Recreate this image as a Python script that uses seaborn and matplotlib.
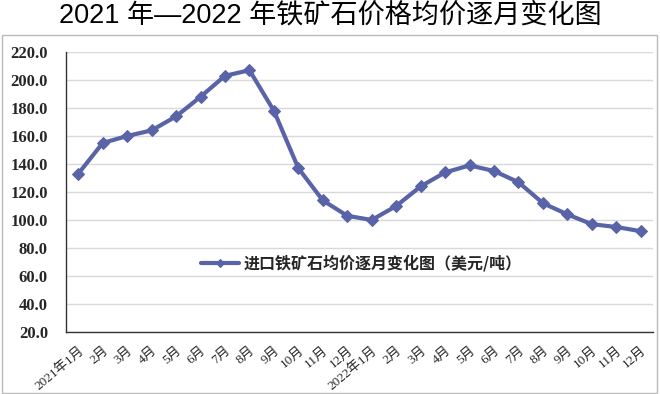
import numpy as np
import pandas as pd
import matplotlib
matplotlib.use("Agg")
import matplotlib.pyplot as plt
import seaborn as sns
from matplotlib import font_manager
from matplotlib.patches import Rectangle

months = ["2021年1月", "2月", "3月", "4月", "5月", "6月", "7月", "8月", "9月", "10月", "11月", "12月",
          "2022年1月", "2月", "3月", "4月", "5月", "6月", "7月", "8月", "9月", "10月", "11月", "12月"]
prices = [133, 155, 160, 164, 174, 188, 203, 207, 178, 137, 114, 103,
          100, 110, 124, 134, 139, 135, 127, 112, 104, 97, 95, 92]
series_name = "进口铁矿石均价逐月变化图（美元/吨）"
yticks = [20, 40, 60, 80, 100, 120, 140, 160, 180, 200, 220]

sns.set_style("white")

try:
    font_manager.findfont("Liberation Serif", fallback_to_default=False)
    serif = "Liberation Serif"
except Exception:
    serif = "DejaVu Serif"
tick_fonts = [serif, "Noto Sans CJK SC"]
plt.rcParams['font.family'] = tick_fonts

df = pd.DataFrame({"pos": np.arange(len(prices)), "price": prices})

fig = plt.figure(figsize=(6.6, 3.94), dpi=100)
ax = fig.add_axes([66 / 660, 1 - 332 / 394, 587 / 660, 280 / 394])

ax.set_axisbelow(True)
ax.grid(axis="y", color="#d9d9d9", linewidth=1)

color = "#5863a8"
sns.lineplot(data=df, x="pos", y="price", ax=ax, color=color, linewidth=3,
             marker="D", markersize=6.5, markeredgecolor=color, label=series_name)

ax.set_xlim(-0.5, len(prices) - 0.5)
ax.set_ylim(20, 220)
ax.set_yticks(yticks)
ax.set_yticklabels([f"{v:.1f}" for v in yticks], fontsize=12, fontweight="bold", family=tick_fonts)
ax.set_xticks(np.arange(len(months)))
ax.set_xticklabels(months, rotation=40, ha="right", rotation_mode="anchor", fontsize=9.5, family=tick_fonts)
ax.set_xticks(np.arange(len(months)) + 0.5, minor=True)
ax.tick_params(axis="x", which="major", length=0, pad=9)
ax.tick_params(axis="x", which="minor", length=4, direction="in", color="#333333")
ax.tick_params(axis="y", length=4, direction="in", color="#333333", pad=13)
ax.set_xlabel("")
ax.set_ylabel("")

for side in ["top", "right"]:
    ax.spines[side].set_visible(False)
for side in ["left", "bottom"]:
    ax.spines[side].set_color("#333333")
    ax.spines[side].set_linewidth(1)

leg = ax.legend(loc="center left", bbox_to_anchor=(0.205, 0.245), frameon=False,
                handlelength=2.4, handletextpad=0.3, markerscale=0.6,
                prop={"family": ["Noto Sans CJK SC"], "weight": "bold", "size": 11.5})

fig.patches.append(Rectangle((0.003, 0.002), 0.992, 1 - 35 / 394 - 0.002, transform=fig.transFigure,
                             fill=False, edgecolor="#bbbbbb", linewidth=1))
fig.text(0.5, 1 - 16 / 394, "2021 年—2022 年铁矿石价格均价逐月变化图", ha="center", va="center",
         fontsize=19.5, family=["Liberation Sans", "Noto Sans CJK SC"], color="black")

fig.savefig("out.png", dpi=100)
